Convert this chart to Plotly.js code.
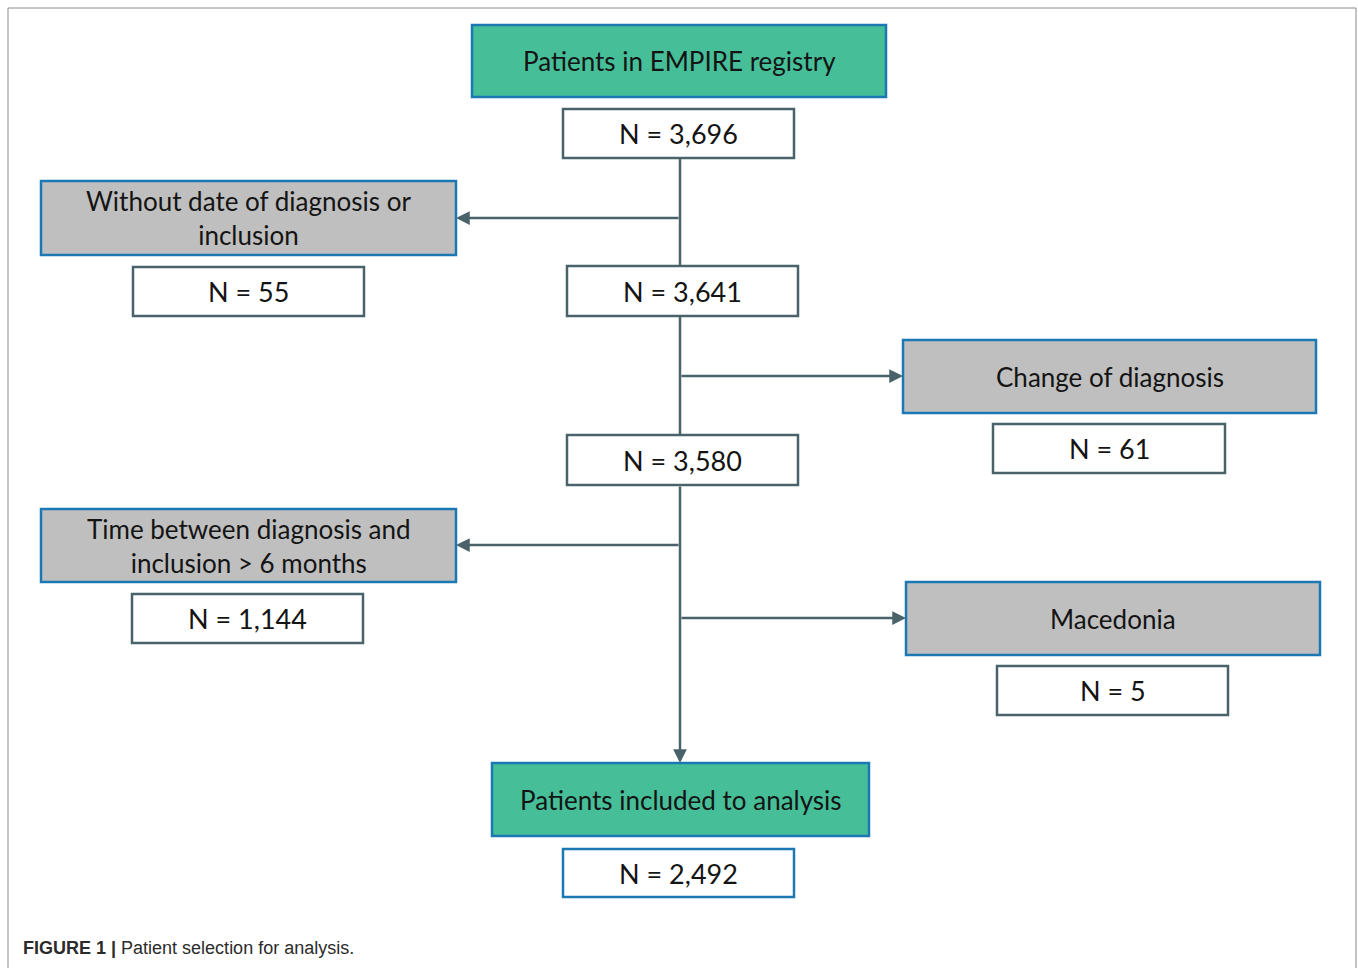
<!DOCTYPE html>
<html>
<head>
<meta charset="utf-8">
<script src="https://cdn.plot.ly/plotly-3.0.1.min.js"></script>
<style>html,body{margin:0;padding:0;background:#fff;}#chart{width:1358px;height:968px;}</style>
</head>
<body>
<div id="chart"></div>
<script>
// ---- data ----
const stageLabels = ['Patients in EMPIRE registry', 'Patients included to analysis'];
const mainCounts = [3696, 3641, 3580, 2492];
const exclusionLabels = ['Without date of diagnosis or<br>inclusion', 'Change of diagnosis', 'Time between diagnosis and<br>inclusion > 6 months', 'Macedonia'];
const exclusionCounts = [55, 61, 1144, 5];
const captionBold = 'FIGURE 1 |';
const captionText = 'Patient selection for analysis.';

// ---- layout geometry (pixels) ----
const stageBoxes = [[472, 25, 886, 97], [492, 763, 869, 836]];
const mainCountBoxes = [[563, 109, 794, 158], [567, 266, 798, 316], [567, 435, 798, 485], [563, 849, 794, 897]];
const exclBoxes = [[41, 181, 456, 255], [903, 340, 1316, 413], [41, 509, 456, 582], [906, 582, 1320, 655]];
const exclCountBoxes = [[133, 267, 364, 316], [993, 424, 1225, 473], [132, 594, 363, 643], [997, 666, 1228, 715]];

const GREEN = '#46bf99', BLUE = '#1b78b3', GRAY = '#bfbfbf', SLATE = '#4a636a';
const FONT = 'Lato, "Open Sans", sans-serif';
const shapes = [];
const annotations = [];

function box(b, fill, line, w) {
  shapes.push({type: 'rect', xref: 'x', yref: 'y', x0: b[0], y0: b[1], x1: b[2], y1: b[3],
    fillcolor: fill, line: {color: line, width: w}, layer: 'above'});
}
function label(b, txt, size) {
  annotations.push({x: (b[0] + b[2]) / 2, y: (b[1] + b[3]) / 2, xref: 'x', yref: 'y', text: txt,
    showarrow: false, font: {family: FONT, size: size, color: '#141414'}, xanchor: 'center', yanchor: 'middle'});
}
function seg(x0, y0, x1, y1) {
  shapes.push({type: 'line', xref: 'x', yref: 'y', x0: x0, y0: y0, x1: x1, y1: y1, line: {color: SLATE, width: 2.5}});
}
function arrow(x0, y0, x1, y1) {
  annotations.push({x: x1, y: y1, ax: x0, ay: y0, xref: 'x', yref: 'y', axref: 'x', ayref: 'y', text: '',
    showarrow: true, arrowhead: 2, arrowsize: 1.1, arrowwidth: 2.5, arrowcolor: SLATE, standoff: 0, startstandoff: 0});
}
const fmt = n => 'N = ' + n.toLocaleString('en-US');

// outer frame
shapes.push({type: 'rect', xref: 'x', yref: 'y', x0: 8, y0: 8, x1: 1356, y1: 975, line: {color: '#8a8a8a', width: 1}, fillcolor: 'rgba(0,0,0,0)'});

// connectors
const cx = 680;
seg(cx, 158, cx, 266);
arrow(cx, 218, 456, 218);
seg(cx, 316, cx, 435);
arrow(cx, 376, 903, 376);
arrow(cx, 485, cx, 763);
arrow(cx, 545, 456, 545);
arrow(cx, 618, 906, 618);

// boxes
stageBoxes.forEach((b, i) => { box(b, GREEN, BLUE, 2.5); label(b, stageLabels[i], 26); });
mainCountBoxes.forEach((b, i) => { box(b, '#ffffff', i === 3 ? BLUE : SLATE, 2.5); label(b, fmt(mainCounts[i]), 27); });
exclBoxes.forEach((b, i) => { box(b, GRAY, BLUE, 2.5); label(b, exclusionLabels[i], 26); });
exclCountBoxes.forEach((b, i) => { box(b, '#ffffff', SLATE, 2.5); label(b, fmt(exclusionCounts[i]), 27); });

// caption
annotations.push({x: 21, y: 948, xref: 'x', yref: 'y', xanchor: 'left', yanchor: 'middle', showarrow: false,
  text: '<b>' + captionBold + '</b> ' + captionText,
  font: {family: '"Liberation Sans", Arial, sans-serif', size: 18, color: '#2b2b2b'}});

const layout = {
  width: 1358, height: 968, margin: {l: 0, r: 0, t: 0, b: 0},
  paper_bgcolor: '#ffffff', plot_bgcolor: '#ffffff',
  xaxis: {range: [0, 1358], visible: false, fixedrange: true},
  yaxis: {range: [968, 0], visible: false, fixedrange: true},
  shapes: shapes, annotations: annotations, showlegend: false
};
Plotly.newPlot('chart', [{x: [], y: [], type: 'scatter', mode: 'markers', hoverinfo: 'skip'}], layout, {staticPlot: true, displayModeBar: false});
</script>
</body>
</html>
